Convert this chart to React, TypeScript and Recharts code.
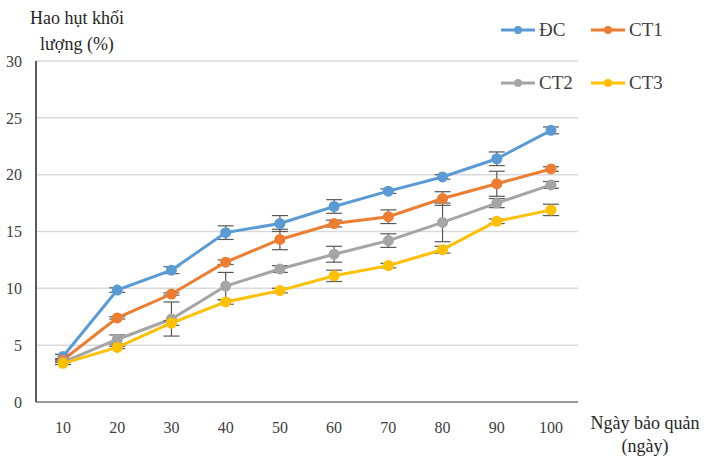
import {
	LineChart,
	Line,
	XAxis,
	YAxis,
	CartesianGrid,
	ErrorBar,
} from 'recharts';

const days = ['10', '20', '30', '40', '50', '60', '70', '80', '90', '100'];

const dc = [4.0, 9.85, 11.6, 14.9, 15.7, 17.2, 18.55, 19.8, 21.4, 23.9];
const ct1 = [3.7, 7.4, 9.5, 12.3, 14.3, 15.7, 16.3, 17.9, 19.2, 20.5];
const ct2 = [3.5, 5.5, 7.3, 10.2, 11.7, 13.0, 14.2, 15.8, 17.5, 19.1];
const ct3 = [3.4, 4.8, 6.95, 8.8, 9.8, 11.1, 12.0, 13.4, 15.9, 16.9];

const dcErr = [0.2, 0.2, 0.3, 0.6, 0.7, 0.6, 0.2, 0.2, 0.6, 0.3];
const ct1Err = [0.1, 0.1, 0.1, 0.2, 0.9, 0.3, 0.6, 0.6, 1.1, 0.2];
const ct2Err = [0.2, 0.4, 1.5, 1.2, 0.3, 0.7, 0.6, 1.7, 0.4, 0.3];
const ct3Err = [0.1, 0.1, 0.2, 0.2, 0.2, 0.5, 0.2, 0.3, 0.2, 0.5];

const yTicks = [0, 5, 10, 15, 20, 25, 30];

const series = [
	{ key: 'dc', name: 'ĐC', color: '#5B9BD5' },
	{ key: 'ct1', name: 'CT1', color: '#ED7D31' },
	{ key: 'ct2', name: 'CT2', color: '#A5A5A5' },
	{ key: 'ct3', name: 'CT3', color: '#FFC000' },
];

const data = days.map((d, i) => ({
	day: d,
	dc: dc[i],
	ct1: ct1[i],
	ct2: ct2[i],
	ct3: ct3[i],
	dcErr: dcErr[i],
	ct1Err: ct1Err[i],
	ct2Err: ct2Err[i],
	ct3Err: ct3Err[i],
}));

const font = '"Liberation Serif", "Times New Roman", serif';
const textColor = '#404040';

function LegendBox() {
	return (
		<div
			style={{
				position: 'absolute',
				left: 500,
				top: 19,
				display: 'grid',
				gridTemplateColumns: '90px 90px',
				rowGap: 31,
				fontFamily: font,
				fontSize: 19,
				color: textColor,
			}}>
			{series.map((s) => (
				<div key={s.key} style={{ display: 'flex', alignItems: 'center' }}>
					<svg width={36} height={12} style={{ marginRight: 3 }}>
						<line x1={1} y1={6} x2={35} y2={6} stroke={s.color} strokeWidth={3} />
						<circle cx={18} cy={6} r={4} fill={s.color} />
					</svg>
					<span>{s.name}</span>
				</div>
			))}
		</div>
	);
}

export default function App() {
	return (
		<div
			style={{
				position: 'absolute',
				left: 0,
				top: 0,
				width: 704,
				height: 459,
				background: '#fff',
				fontFamily: font,
			}}>
			<LineChart
				width={704}
				height={459}
				data={data}
				style={{ fontFamily: font }}
				margin={{ top: 61, right: 126, left: 0, bottom: 27 }}>
				<CartesianGrid vertical={false} stroke='#D9D9D9' strokeWidth={1.5} />
				<XAxis
					dataKey='day'
					padding={{ left: 27, right: 27 }}
					height={30}
					tickLine={false}
					stroke='#7f7f7f'
					strokeWidth={1.5}
					tickMargin={14}
					tick={{ fontSize: 16, fill: textColor, fontFamily: font }}
				/>
				<YAxis
					width={36}
					domain={[0, 30]}
					ticks={yTicks}
					tickLine={false}
					stroke='#262626'
					strokeWidth={1.5}
					tickMargin={8}
					tick={{ fontSize: 16, fill: textColor, fontFamily: font }}
				/>
				{series.map((s) => (
					<Line
						key={s.key}
						dataKey={s.key}
						name={s.name}
						stroke={s.color}
						strokeWidth={3}
						dot={{ r: 4, fill: s.color, stroke: s.color }}
						activeDot={false}
						isAnimationActive={false}>
						<ErrorBar
							dataKey={s.key + 'Err'}
							width={8}
							stroke='#595959'
							strokeWidth={1.2}
							direction='y'
						/>
					</Line>
				))}
			</LineChart>
			<LegendBox />
			<div
				style={{
					position: 'absolute',
					left: 0,
					top: 5,
					width: 154,
					textAlign: 'center',
					fontSize: 18,
					lineHeight: '26px',
					color: '#262626',
				}}>
				Hao hụt khối
				<br />
				lượng (%)
			</div>
			<div
				style={{
					position: 'absolute',
					left: 584,
					top: 412,
					width: 122,
					textAlign: 'center',
					fontSize: 18,
					lineHeight: '23px',
					color: '#262626',
				}}>
				Ngày bảo quản
				<br />
				(ngày)
			</div>
		</div>
	);
}
